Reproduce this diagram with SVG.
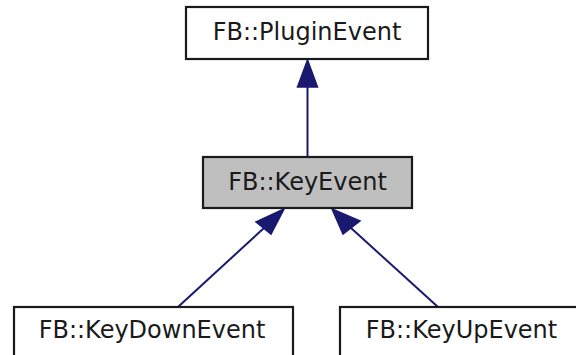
<svg xmlns="http://www.w3.org/2000/svg" width="576" height="355" viewBox="0 0 576 355">
<style>
.box{fill:#fff;stroke:#1a1a1a;stroke-width:2.2}
.cur{fill:#bfbfbf}
.lbl{font-family:"DejaVu Sans",sans-serif;font-size:24px;fill:#1a1a1a;text-anchor:middle}
.edge{stroke:#191970;stroke-width:2;fill:none}
.head{fill:#191970;stroke:#191970;stroke-width:1.5}
</style>
<rect width="576" height="355" fill="#fff"/>
<g id="connectors">
<line class="edge" x1="307.5" y1="87" x2="307.5" y2="157"/>
<polygon class="head" points="307.5,60 297.5,87 317.5,87"/>
<line class="edge" x1="178" y1="307" x2="264" y2="228"/>
<polygon class="head" points="284,209 256,222 271,234"/>
<line class="edge" x1="438" y1="307" x2="351" y2="228"/>
<polygon class="head" points="332,209 343,234 360,221"/>
</g>
<g id="node-plugin">
<rect class="box" x="186" y="7" width="242" height="52"/>
<text class="lbl" x="307" y="39.5">FB::PluginEvent</text>
</g>
<g id="node-key">
<rect class="box cur" x="203" y="157" width="209" height="51"/>
<text class="lbl" x="307.5" y="189.5">FB::KeyEvent</text>
</g>
<g id="node-keydown">
<rect class="box" x="14" y="307" width="279" height="53"/>
<text class="lbl" x="152" y="338">FB::KeyDownEvent</text>
</g>
<g id="node-keyup">
<rect class="box" x="340" y="307" width="244" height="53"/>
<text class="lbl" x="461.5" y="338">FB::KeyUpEvent</text>
</g>
</svg>
